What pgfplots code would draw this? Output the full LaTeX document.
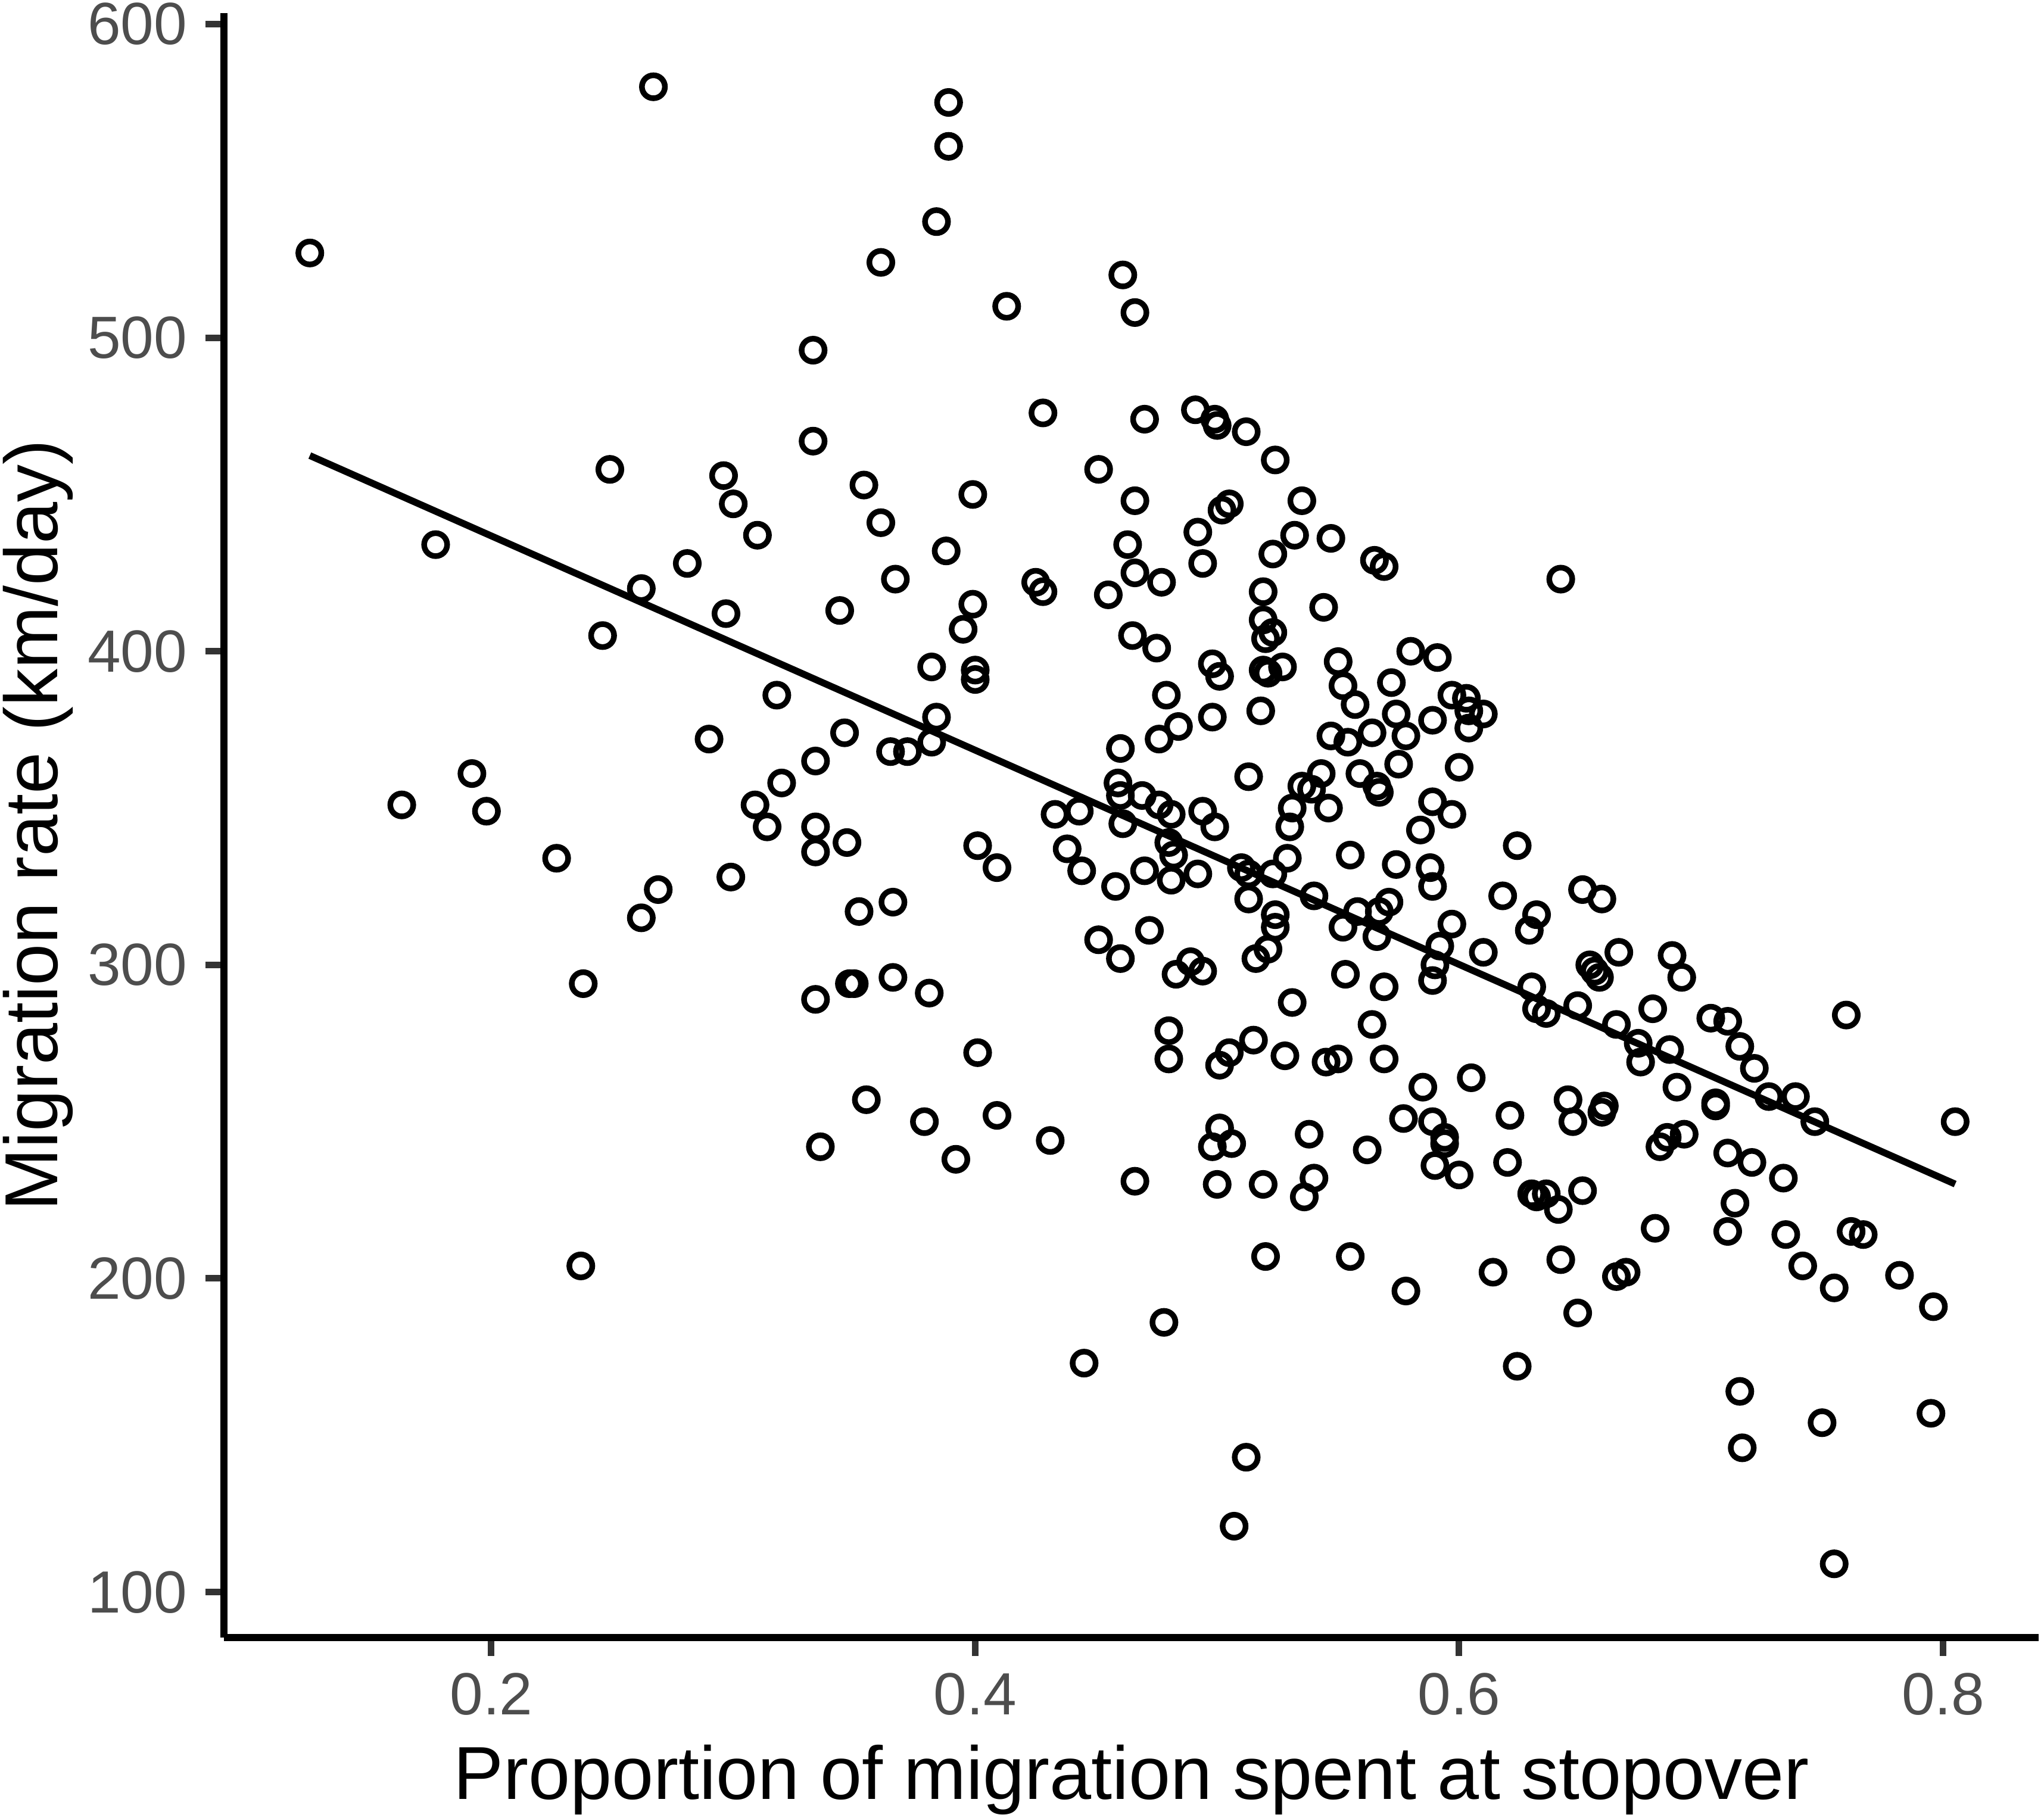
\documentclass[border=0pt]{standalone}
\usepackage{pgfplots}
\pgfplotsset{compat=1.18}
\usepackage{pgfplotstable}
\usepackage{fontspec}
\setmainfont{Liberation Sans}
\definecolor{tickgray}{HTML}{333333}
\definecolor{labgray}{HTML}{4D4D4D}
\pgfplotstableread{
x y
0.125 527
0.267 580
0.389 575
0.389 561
0.384 537
0.361 524
0.333 496
0.333 467
0.413 510
0.461 520
0.466 508
0.428 476
0.470 474
0.491 477
0.499 474
0.500 472
0.512 470
0.524 461
0.451 458
0.466 448
0.535 448
0.502 445
0.505 447
0.492 438
0.532 437
0.547 436
0.523 431
0.463 434
0.494 428
0.466 425
0.477 422
0.565 429
0.569 427
0.642 423
0.519 419
0.455 418
0.425 422
0.428 419
0.519 410
0.544 414
0.520 404
0.523 406
0.465 405
0.475 401
0.498 396
0.501 392
0.519 394
0.527 395
0.521 393
0.580 400
0.591 398
0.550 396.7
0.552 389
0.572 390
0.557 383
0.597 386
0.603 385
0.604 381
0.610 380
0.604 375.5
0.518 381
0.479 386
0.498 379
0.484 376
0.476 372
0.460 369
0.574 380
0.589 378
0.564 374
0.578 373
0.547 373
0.554 371
0.575 364
0.600 363
0.559 361
0.543 361
0.513 360
0.535 357
0.539 356
0.566 357
0.567 355
0.589 352
0.546 350
0.531 350
0.530 344
0.459 358
0.460 354
0.469 354
0.476 351
0.481 348
0.494 349
0.499 344
0.461 345
0.480 339
0.482 335
0.481 327
0.470 330
0.492 329
0.458 325
0.510 331
0.513 329
0.523 329
0.529 334
0.555 335
0.584 343
0.597 348
0.588 331
0.589 325
0.574 332
0.540 322
0.513 321
0.524 316
0.558 317
0.571 320
0.567 317
0.552 312
0.597 313
0.524 312
0.521 305
0.516 302
0.566 309
0.592 306
0.590 300
0.589 295
0.569 293
0.553 297
0.489 301
0.494 298
0.483 297
0.472 311
0.451 308
0.460 302
0.531 288
0.610 304
0.618 322
0.624 338
0.632 316
0.629 311
0.630 293
0.632 286
0.636 284.5
0.651 324
0.659 321
0.666 304
0.654 300
0.656 298
0.658 296
0.649 287
0.665 281
0.688 303
0.692 296
0.680 286
0.674 275
0.675 269
0.687 273
0.704 283
0.711 282
0.716 274
0.722 267
0.728 258
0.739 258
0.747 250
0.760 284
0.690 261
0.706 256
0.706 255
0.711 240
0.721 237
0.734 232
0.714 224
0.711 215
0.735 214
0.762 215
0.767 214
0.742 204
0.755 197
0.782 201
0.796 191
0.805 250
0.795 157
0.750 154
0.716 164
0.717 146
0.755 109
0.693 246
0.686 245
0.683 242
0.681 216
0.669 202
0.665 200.6
0.660 255
0.659 253
0.645 257
0.647 250
0.651 228
0.636 227
0.630 227
0.632 226
0.641 222
0.642 206
0.649 189
0.621 252
0.620 237
0.614 202
0.624 172
0.605 264
0.585 261
0.589 250
0.594 245
0.594 243
0.590 236
0.600 233
0.577 251
0.578 196
0.562 241
0.555 207
0.564 281
0.569 270
0.545 269
0.550 270
0.538 246
0.540 232
0.536 226
0.528 271
0.515 276
0.505 272
0.501 268
0.501 248
0.498 242
0.506 243
0.500 230
0.519 230
0.520 207
0.480 279
0.480 270
0.466 231
0.478 186
0.445 173
0.512 143
0.507 121
0.431 244
0.433 348
0.443 349
0.438 337
0.444 330
0.401 338
0.409 331
0.401 272
0.409 252
0.379 250
0.392 238
0.381 291
0.366 296
0.366 320
0.352 317
0.348 294
0.350 294
0.347 339
0.334 344
0.334 336
0.334 289
0.336 242
0.355 257
0.320 358
0.309 351
0.314 344
0.299 328
0.334 365
0.346 374
0.365 368
0.372 368
0.382 371
0.384 379
0.382 395
0.395 407
0.399 415
0.400 394
0.400 391
0.399 450
0.388 432
0.367 423
0.344 413
0.361 441
0.354 453
0.318 386
0.296 456
0.300 447
0.310 437
0.281 428
0.297 412
0.262 420
0.249 458
0.177 434
0.246 405
0.290 372
0.192 361
0.198 349
0.163 351
0.227 334
0.269 324
0.262 315
0.238 294
0.237 204
}\pts
\pgfplotstableread{
x y
0.125 462.4
0.805 230.1
}\fit
\begin{document}
\begin{tikzpicture}
\path[use as bounding box] (0,0) rectangle (343.2pt,304.8pt);
\begin{axis}[
  at={(37.6pt,29.8pt)}, anchor=south west,
  scale only axis, width=304.7pt, height=272.8pt,
  xmin=0.0895, xmax=0.8395, ymin=85.5, ymax=603.5,
  axis x line*=bottom, axis y line*=left,
  axis line style={line width=1.15pt, -, black},
  xtick={0.2,0.4,0.6,0.8}, ytick={100,200,300,400,500,600},
  xticklabels={0.2,0.4,0.6,0.8},
  tick align=outside, major tick length=3.1pt,
  tick style={line width=1.1pt, color=tickgray},
  /pgf/number format/assume math mode=true,
  ticklabel style={font=\fontsize{10}{12}\selectfont, text=labgray},
  yticklabel style={anchor=east, inner sep=0pt, xshift=-2.9pt},
  xticklabel style={anchor=north, inner sep=0pt, yshift=-2.7pt},
  xlabel={Proportion of migration spent at stopover},
  ylabel={Migration rate (km/day)},
  xlabel style={at={(axis description cs:0.5,-0.0997)}, anchor=base, font=\fontsize{12.6}{15}\selectfont},
  ylabel style={at={(axis description cs:-0.0916,0.5)}, anchor=base, rotate=0, font=\fontsize{12.6}{15}\selectfont},
  clip=false,
]
\addplot[only marks, mark=o, mark size=1.93pt, mark options={line width=0.95pt, black}] table[x=x, y=y] {\pts};
\addplot[line width=1.15pt, black] table[x=x, y=y] {\fit};
\end{axis}
\end{tikzpicture}
\end{document}
